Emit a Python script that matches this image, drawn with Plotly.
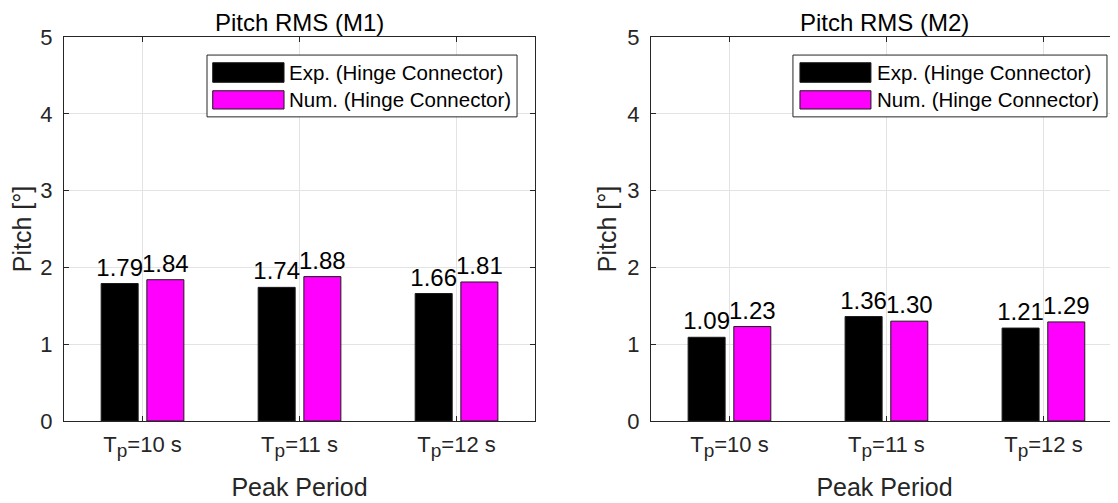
import plotly.graph_objects as go

categories = ["T<sub><span style='font-size:19px'>p</span></sub>=10 s",
              "T<sub><span style='font-size:19px'>p</span></sub>=11 s",
              "T<sub><span style='font-size:19px'>p</span></sub>=12 s"]
cat_pos = [1, 2, 3]
series_names = ["Exp. (Hinge Connector)", "Num. (Hinge Connector)"]
series_colors = ["#000000", "#ff00ff"]
m1_exp = [1.79, 1.74, 1.66]
m1_num = [1.84, 1.88, 1.81]
m2_exp = [1.09, 1.36, 1.21]
m2_num = [1.23, 1.30, 1.29]
titles = ["Pitch RMS (M1)", "Pitch RMS (M2)"]
y_ticks = [0, 1, 2, 3, 4, 5]

FONT = "Liberation Sans, Arial, Helvetica, sans-serif"
AX = "#262626"
GRID = "#e3e3e3"

fig = go.Figure()
panels = [(m1_exp, m1_num, "x", "y"), (m2_exp, m2_num, "x2", "y2")]
for exp_v, num_v, xa, ya in panels:
    for vals, name, col in zip([exp_v, num_v], series_names, series_colors):
        fig.add_trace(go.Bar(
            x=cat_pos, y=vals, name=name, xaxis=xa, yaxis=ya,
            marker=dict(color=col, line=dict(color="#1a1a1a", width=1)),
            texttemplate="%{y:.2f}", textposition="outside",
            textfont=dict(family=FONT, size=24, color="#000000"),
            constraintext="none", cliponaxis=False, showlegend=False,
        ))

common_x = dict(tickmode="array", tickvals=cat_pos, ticktext=categories,
                showgrid=True, gridcolor=GRID, showline=True, linecolor=AX,
                linewidth=1, mirror="ticks", ticks="inside", ticklen=5,
                tickcolor=AX, tickfont=dict(family=FONT, size=22, color=AX),
                title=dict(text="Peak Period", font=dict(family=FONT, size=25, color=AX), standoff=18),
                zeroline=False, automargin=False, ticklabelstandoff=4)
common_y = dict(range=[0, 5], tickvals=y_ticks, showgrid=True, gridcolor=GRID,
                showline=True, linecolor=AX, linewidth=1, ticks="inside",
                ticklen=5, tickcolor=AX, tickfont=dict(family=FONT, size=22, color=AX),
                title=dict(text="Pitch [°]", font=dict(family=FONT, size=25, color=AX), standoff=3),
                zeroline=False, ticklabelstandoff=6, automargin=False)

fig.update_layout(
    width=1110, height=495, plot_bgcolor="white", paper_bgcolor="white",
    margin=dict(l=56, r=0, t=29, b=82),
    barmode="group", bargap=0.418, bargroupgap=0.19,
    xaxis=dict(domain=[0, 0.4469], range=[0.5, 3.5], **common_x),
    xaxis2=dict(domain=[0.5569, 1.0], range=[0.5, 3.475], **common_x),
    yaxis=dict(anchor="x", mirror="ticks", **common_y),
    yaxis2=dict(anchor="x2", mirror=False, **common_y),
    showlegend=False,
)

# titles
for i, t in enumerate(titles):
    xr = "x domain" if i == 0 else "x2 domain"
    fig.add_annotation(text=t, xref=xr, yref="paper", x=0.5, y=1.0,
                       xanchor="center", yanchor="bottom", yshift=0, borderpad=0,
                       showarrow=False, font=dict(family=FONT, size=24, color="#000000"))

# custom legends (box, swatches, labels)
legend_boxes = [
    dict(x0=0.3036, x1=0.9618, sw0=0.3157, sw1=0.4671, tx=0.4735, xr="x domain", yr="y domain"),
    dict(x0=0.304, x1=0.9764, sw0=0.319, sw1=0.471, tx=0.480, xr="x2 domain", yr="y2 domain"),
]
sw_y = [(0.882, 0.933), (0.8125, 0.860)]
for lb in legend_boxes:
    fig.add_shape(type="rect", xref=lb["xr"], yref=lb["yr"], x0=lb["x0"], x1=lb["x1"],
                  y0=0.792, y1=0.953, line=dict(color=AX, width=1), fillcolor="white", layer="above")
    for (y0, y1), name, col in zip(sw_y, series_names, series_colors):
        fig.add_shape(type="rect", xref=lb["xr"], yref=lb["yr"], x0=lb["sw0"], x1=lb["sw1"],
                      y0=y0, y1=y1, line=dict(color="#1a1a1a", width=1), fillcolor=col, layer="above")
        fig.add_annotation(text=name, xref=lb["xr"], yref=lb["yr"], x=lb["tx"], y=(y0 + y1) / 2,
                           xanchor="left", yanchor="middle", showarrow=False,
                           font=dict(family=FONT, size=20.5, color="#000000"))

fig.write_html("out.html")
